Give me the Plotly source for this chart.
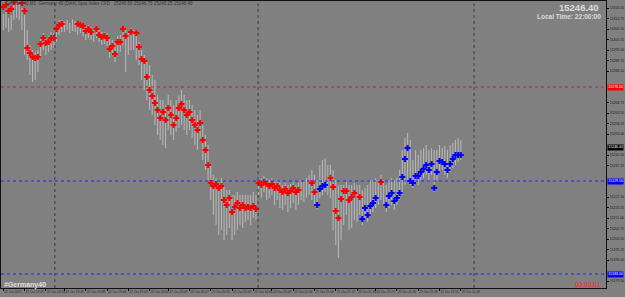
import plotly.graph_objects as go

# ---------------- data (price values) ----------------
high = [15313.0, 15314.0, 15311.0, 15312.5, 15317.5, 15318.5, 15318.0, 15316.0, 15312.5, 15305.0,
        15297.5, 15295.0, 15294.0, 15295.0, 15301.0, 15303.5, 15301.0, 15302.0, 15304.0, 15303.5,
        15308.0, 15310.0, 15310.0, 15309.0, 15310.0, 15308.5, 15310.5, 15309.5, 15309.0, 15309.0,
        15308.5, 15307.5, 15307.5, 15306.5, 15306.0, 15307.0, 15305.0, 15304.0, 15304.0, 15303.5,
        15301.0, 15300.0, 15299.0, 15302.0, 15302.5, 15306.0, 15305.0, 15304.0, 15306.0, 15305.0,
        15305.0, 15299.0, 15295.0, 15292.5, 15289.0, 15287.5, 15282.5, 15280.0, 15272.5, 15270.0,
        15270.0, 15267.5, 15272.5, 15270.0, 15267.5, 15270.0, 15272.5, 15275.0, 15272.5, 15270.0,
        15270.0, 15267.5, 15265.0, 15262.5, 15265.0, 15257.5, 15252.5, 15247.5, 15237.5, 15232.5,
        15231.0, 15230.0, 15231.0, 15227.5, 15225.0, 15225.0, 15222.5, 15222.5, 15224.0, 15222.5,
        15222.5, 15222.5, 15222.5, 15222.5, 15224.0, 15222.5, 15231.0, 15231.0, 15232.0, 15231.0,
        15230.0, 15231.0, 15229.0, 15230.0, 15229.0, 15227.5, 15228.5, 15227.5, 15228.0, 15229.0,
        15227.5, 15228.5, 15230.0, 15229.0, 15231.0, 15232.5, 15235.0, 15232.5, 15230.0, 15237.5,
        15240.0, 15241.0, 15237.5, 15237.5, 15235.0, 15230.0, 15227.5, 15227.5, 15227.5, 15229.0,
        15227.5, 15227.5, 15228.5, 15227.5, 15227.5, 15225.0, 15226.0, 15227.5, 15230.0, 15230.0,
        15231.0, 15230.0, 15232.5, 15230.0, 15227.5, 15230.0, 15231.0, 15230.0, 15231.0, 15235.0,
        15245.0, 15251.0, 15253.5, 15250.0, 15240.0, 15245.0, 15242.5, 15245.0, 15246.0, 15247.5,
        15245.0, 15246.0, 15245.0, 15245.0, 15247.5, 15246.0, 15247.0, 15245.0, 15247.5, 15248.5,
        15250.0, 15251.0, 15250.0]

low = [15305.0, 15306.0, 15304.0, 15305.0, 15310.0, 15311.0, 15310.0, 15305.0, 15292.5, 15290.0,
       15282.5, 15279.0, 15280.0, 15284.0, 15291.0, 15295.0, 15292.5, 15294.0, 15295.0, 15296.0,
       15299.0, 15302.5, 15304.0, 15304.0, 15305.0, 15303.5, 15304.5, 15304.0, 15302.5, 15303.5,
       15302.0, 15300.0, 15301.0, 15300.0, 15299.0, 15301.0, 15299.0, 15297.5, 15298.0, 15297.0,
       15291.0, 15292.5, 15289.0, 15292.5, 15294.0, 15297.5, 15284.0, 15292.5, 15295.0, 15295.0,
       15290.0, 15287.5, 15280.0, 15275.0, 15270.0, 15265.0, 15262.5, 15257.5, 15252.5, 15250.0,
       15247.5, 15246.0, 15255.0, 15252.5, 15250.0, 15254.0, 15256.0, 15257.5, 15255.0, 15252.5,
       15255.0, 15251.0, 15247.5, 15245.0, 15250.0, 15240.0, 15235.0, 15230.0, 15220.0, 15212.5,
       15207.5, 15202.5, 15205.0, 15200.0, 15202.5, 15206.0, 15200.0, 15202.5, 15205.0, 15207.5,
       15206.0, 15209.0, 15210.0, 15207.5, 15211.0, 15210.0, 15222.5, 15221.0, 15224.0, 15220.0,
       15221.0, 15222.5, 15217.5, 15220.0, 15216.0, 15215.0, 15217.5, 15214.0, 15216.0, 15218.5,
       15215.0, 15217.5, 15220.0, 15219.0, 15221.0, 15222.5, 15220.0, 15217.5, 15215.0, 15221.0,
       15222.5, 15224.0, 15222.5, 15221.0, 15205.0, 15197.5, 15191.0, 15200.0, 15207.5, 15212.5,
       15205.0, 15206.0, 15210.0, 15209.0, 15212.5, 15207.5, 15210.0, 15209.0, 15212.5, 15214.0,
       15216.0, 15217.5, 15220.0, 15217.5, 15214.0, 15216.0, 15217.5, 15215.0, 15217.5, 15220.0,
       15222.5, 15227.5, 15230.0, 15227.5, 15226.0, 15228.5, 15227.5, 15230.0, 15231.0, 15232.5,
       15229.0, 15232.5, 15224.0, 15230.0, 15234.0, 15235.0, 15232.5, 15231.0, 15234.0, 15236.0,
       15237.5, 15239.0, 15240.0]

sell_bar = [0, 1, 2, 3, 4, 7, 8, 9, 10, 11, 12, 13, 14, 15, 16, 17, 18, 19, 20, 21, 22,
            28, 29, 30, 31, 32, 33, 35, 36, 37, 38, 39, 40, 41, 42, 43, 44, 45, 46, 48,
            50, 51, 52, 53, 54, 55, 56, 57, 58, 59, 60, 61, 62, 63, 64, 65, 66, 67, 68, 69,
            70, 71, 72, 73, 74, 75, 76, 77, 78, 79, 80, 81, 82, 83, 84, 85, 86, 87, 88, 89,
            90, 91, 92, 93, 94, 95, 96, 97, 98, 99, 100, 101, 102, 103, 104, 105, 106, 107, 108, 109,
            110, 111, 116, 117, 123, 124, 125, 126, 127, 128, 129, 130, 131, 132, 134, 142]
sell_price = [15316.5, 15317.5, 15314.5, 15315.5, 15319.0, 15318.5, 15314.5, 15296.0,
              15293.5, 15291.5, 15291.0, 15291.5, 15298.0, 15301.0, 15298.5, 15299.0, 15301.0, 15301.0,
              15305.5, 15307.5, 15308.0,
              15308.0, 15307.5, 15307.0, 15304.5, 15305.5, 15304.0, 15305.5, 15302.5, 15301.5, 15302.0,
              15301.0, 15295.5, 15297.0, 15293.0, 15299.0, 15299.0, 15305.5, 15302.0, 15304.0,
              15303.5, 15296.5, 15290.5, 15289.5, 15281.5, 15275.0, 15272.0, 15268.5, 15265.0, 15261.0,
              15264.0, 15260.0, 15266.0, 15262.5, 15257.5, 15261.0, 15266.0, 15268.0, 15265.0, 15262.5,
              15264.0, 15260.0, 15257.5, 15255.0, 15258.5, 15250.0, 15245.0, 15237.5, 15228.5, 15227.0,
              15228.0, 15226.0, 15227.0, 15220.0, 15217.5, 15221.0, 15214.0, 15216.5, 15218.5, 15216.0,
              15217.5, 15216.0, 15216.5, 15216.0, 15217.0, 15215.5, 15228.5, 15227.5, 15229.0, 15228.0,
              15227.0, 15228.0, 15226.0, 15227.0, 15225.0, 15224.0, 15225.5, 15223.5, 15224.5, 15226.0,
              15224.0, 15225.0, 15228.5, 15224.0, 15231.0, 15226.5, 15214.5, 15211.0, 15220.5, 15224.5,
              15224.5, 15220.0, 15221.5, 15223.5, 15221.5, 15229.0]

buy_bar = [118, 119, 120, 121, 135, 136, 137, 138, 139, 140,
           144, 145, 146, 147, 148, 149, 150, 151, 152, 153, 154, 155, 156, 157, 158, 159,
           160, 161, 162, 163, 164, 165, 166, 167, 168, 169, 170, 171, 172]
buy_price = [15217.5, 15225.5, 15227.0, 15227.5, 15210.5, 15216.0, 15212.5, 15217.0, 15218.5, 15221.0,
             15217.5, 15222.0, 15223.5, 15219.5, 15221.0, 15223.5, 15231.5, 15240.5, 15246.0, 15229.5,
             15228.5, 15232.0, 15232.0, 15234.0, 15235.5, 15237.5, 15235.0, 15238.0, 15226.0, 15234.0,
             15239.5, 15239.0, 15238.0, 15235.0, 15238.0, 15240.5, 15242.5, 15242.5, 15242.5]

tick_bar = [0, 8, 16, 23, 31, 39, 47, 55, 62, 70, 78, 86, 94, 101, 109, 117, 125, 133, 140, 148, 156, 164, 172]
tick_text = ["22 Oct 2021", "22 Oct 19:15", "22 Oct 19:23", "22 Oct 19:30", "22 Oct 19:38",
             "22 Oct 19:46", "22 Oct 19:54", "22 Oct 20:02", "22 Oct 20:09", "22 Oct 20:17",
             "22 Oct 20:25", "22 Oct 20:33", "22 Oct 20:41", "22 Oct 20:48", "22 Oct 20:56",
             "22 Oct 21:04", "22 Oct 21:12", "22 Oct 21:20", "22 Oct 21:27", "22 Oct 21:35",
             "22 Oct 21:43", "22 Oct 21:51", "22 Oct 21:59"]

separator_bar = [19.4, 95.8, 177.0]
level_price = [15276.5, 15229.5, 15183.0]
level_color = ["#d02020", "#2020ff", "#2020ff"]
last_price = 15246.40

# ---------------- figure ----------------
W, H = 625, 297
ML, MR, MT, MB = 1, 19, 1, 9
BG = "#808080"
FONT = "Liberation Sans, Arial, sans-serif"
Y0, Y1 = 15176.0, 15319.5
YTICK0, YSTEP = 15316.0, 5.25
AXFONT = 3.5

bx, by = [], []
for i, (h, l) in enumerate(zip(high, low)):
    bx += [i, i, None]
    by += [l, h, None]

fig = go.Figure()
fig.add_trace(go.Scatter(x=bx, y=by, mode="lines", line=dict(color="#b6b6b6", width=1.1),
                         hoverinfo="skip"))
fig.add_trace(go.Scatter(x=sell_bar, y=sell_price, mode="markers",
                         marker=dict(symbol="cross", size=5, color="#ff0000", line=dict(width=0))))
fig.add_trace(go.Scatter(x=buy_bar, y=buy_price, mode="markers",
                         marker=dict(symbol="cross", size=5, color="#0000ff", line=dict(width=0))))

shapes = []
for s in separator_bar:
    shapes.append(dict(type="line", xref="x", yref="paper", x0=s, x1=s, y0=0, y1=1,
                       line=dict(color="#3c3c3c", width=1, dash="dot")))
for p, c in zip(level_price, level_color):
    shapes.append(dict(type="line", xref="paper", yref="y", x0=0, x1=1, y0=p, y1=p,
                       line=dict(color=c, width=1, dash="dot")))

box_prices = [level_price[0], last_price, level_price[1], level_price[2]]

# y tick values (axis scale), skipping those hidden behind the price boxes
ytick_vals = []
v = YTICK0
while v > Y0:
    if all(abs(v - b) > 3.0 for b in box_prices):
        ytick_vals.append(round(v, 2))
    v -= YSTEP

ann = []
def box(price, bg, fg="#ffffff"):
    ann.append(dict(xref="paper", yref="y", x=1.0, y=price, xanchor="left", yanchor="middle",
                    xshift=1, text=f"{price:.2f}", showarrow=False, bgcolor=bg, borderpad=0.3,
                    font=dict(size=AXFONT, color=fg, family=FONT)))
box(level_price[0], "#ff0000")
box(last_price, "#000000")
box(level_price[1], "#0000ff")
box(level_price[2], "#0000ff")

pw, ph = W - ML - MR, H - MT - MB
def px(x):
    return (x - ML) / pw
def py(y):
    return (H - MB - y) / ph

ann.append(dict(xref="paper", yref="paper", x=px(3), y=py(3.5), xanchor="left", yanchor="middle",
                text="Germany40,M1  Germany 40 (DAX) Spot Index CFD   15246.50 15246.75 15246.25 15246.40",
                showarrow=False, font=dict(size=4.5, color="#303030", family=FONT)))
ann.append(dict(xref="paper", yref="paper", x=px(601), y=py(7), xanchor="right", yanchor="middle",
                text="<b>15246.40</b>", showarrow=False,
                font=dict(size=9.5, color="#dcdcdc", family=FONT)))
ann.append(dict(xref="paper", yref="paper", x=px(603), y=py(16), xanchor="right", yanchor="middle",
                text="<b>Local Time: 22:00:00</b>", showarrow=False,
                font=dict(size=6.5, color="#dcdcdc", family=FONT)))
ann.append(dict(xref="paper", yref="paper", x=px(1.5), y=py(285), xanchor="left", yanchor="middle",
                text="<b>#Germany40</b>", showarrow=False,
                font=dict(size=7, color="#e0e0e0", family=FONT)))
ann.append(dict(xref="paper", yref="paper", x=px(603), y=py(284.5), xanchor="right", yanchor="middle",
                text="00:00:01", showarrow=False,
                font=dict(size=6.5, color="#ff1a1a", family=FONT)))

fig.update_layout(
    width=W, height=H, margin=dict(l=ML, r=MR, t=MT, b=MB, pad=0, autoexpand=False),
    paper_bgcolor=BG, plot_bgcolor=BG, showlegend=False,
    shapes=shapes, annotations=ann,
    xaxis=dict(range=[-0.86, 226.6], tickmode="array", tickvals=tick_bar, ticktext=tick_text,
               ticklabelposition="outside right", tickangle=0, automargin=False,
               ticks="outside", ticklen=2, tickcolor="#000000",
               tickfont=dict(size=3.2, color="#1c1c1c", family=FONT),
               showgrid=False, zeroline=False, showline=True, linecolor="#101010", linewidth=1,
               mirror=True),
    yaxis=dict(side="right", range=[Y0, Y1], tickmode="array", tickvals=ytick_vals,
               tickformat=".2f", automargin=False, ticklabelstandoff=0,
               ticks="outside", ticklen=2, tickcolor="#000000",
               tickfont=dict(size=AXFONT, color="#1c1c1c", family=FONT),
               showgrid=False, zeroline=False, showline=True, linecolor="#101010", linewidth=1,
               mirror=True),
)

fig.write_html("out.html")
